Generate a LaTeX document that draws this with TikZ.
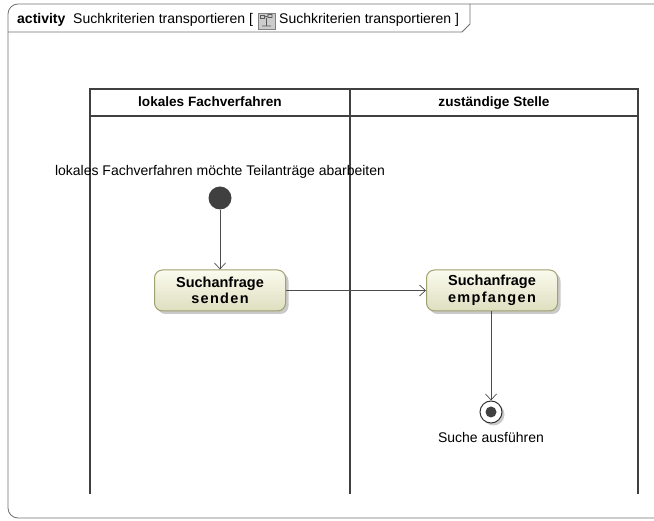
\documentclass[tikz,border=0pt]{standalone}
\usepackage{fontspec}
\setmainfont{Liberation Sans}
\usetikzlibrary{arrows.meta,shadows}
\definecolor{frameg}{HTML}{707070}
\definecolor{lanec}{HTML}{404040}
\definecolor{actborder}{HTML}{A0A070}
\definecolor{acttop}{HTML}{FBFBEE}
\definecolor{actbot}{HTML}{DEDEC0}
\definecolor{dotc}{HTML}{404040}
\tikzset{
  frameline/.style={draw=frameg, line width=0.8pt},
  laneline/.style={draw=lanec, line width=2pt},
  action/.style={draw=actborder, line width=1pt, rounded corners=8pt,
    top color=acttop, bottom color=actbot, minimum width=131pt, minimum height=41pt,
    align=center, font=\fontsize{14.5}{16.5}\selectfont\bfseries,
    drop shadow={shadow xshift=3pt, shadow yshift=-3pt, fill=black!35, opacity=0.6}},
  flow/.style={draw=black!70, line width=0.7pt, -{Straight Barb[length=6pt,width=11pt]}},
  caption/.style={font=\fontsize{14}{16}\selectfont, inner sep=0pt},
  titletext/.style={anchor=base west, inner sep=0pt, font=\fontsize{14}{16}\selectfont},
  lanehead/.style={anchor=base, inner sep=0pt, font=\fontsize{13.6}{15}\selectfont\bfseries},
}
\begin{document}
\begin{tikzpicture}[x=1pt,y=-1pt]
\useasboundingbox (0,0) rectangle (654,521);
% outer frame
\draw[frameline, rounded corners=10pt] (658,4) -- (8,4) -- (8,518) -- (658,518);
\draw[frameline] (8,32) -- (462,32) -- (470,24) -- (470,10) [rounded corners=6pt] -- (470,4);
\node[titletext] (title) at (17,24) {\textbf{activity}\ \ Suchkriterien transportieren [};
\node[titletext] (title2) at (279,24) {Suchkriterien transportieren ]};
% icon
\node[draw=black!50, fill=black!20, minimum width=17pt, minimum height=16pt, inner sep=0pt] (icon) at (266.5,21) {};
\draw[black!65, line width=0.8pt] (260.5,15.5) rectangle (264.5,18.5) (268,14.5) rectangle (272,17.5)
  (264.5,17) -- (268,16) (266.5,18) -- (266.5,25.5) (262,26) -- (271,26);
% swimlanes
\draw[laneline] (90,494) -- (90,89) -- (638,89) -- (638,494);
\draw[laneline] (350,89) -- (350,494);
\draw[laneline] (90,116) -- (638,116);
\node[lanehead] (lane1) at (210,107) {lokales Fachverfahren};
\node[lanehead] (lane2) at (494,107) {zuständige Stelle};
% initial node
\node[caption] (startlbl) at (220,172) {lokales Fachverfahren möchte Teilanträge abarbeiten};
\node[circle, fill=dotc, minimum size=23pt, inner sep=0pt] (start) at (220,198) {};
% actions
\node[action] (a1) at (220,290.5) {Suchanfrage\\\addfontfeature{LetterSpace=9}senden};
\node[action] (a2) at (492,290.5) {Suchanfrage\\\addfontfeature{LetterSpace=9}empfangen};
% final node
\node[circle, draw=black!80, line width=1pt, fill=white, minimum size=22pt, inner sep=0pt,
  drop shadow={shadow xshift=2.5pt, shadow yshift=-2.5pt, fill=black!35, opacity=0.6}] (final) at (491,412) {};
\node[circle, fill=dotc, minimum size=11pt, inner sep=0pt] (finaldot) at (final) {};
\node[caption] (finallbl) at (491,437) {Suche ausführen};
% flows
\draw[flow] (start) -- (a1);
\draw[flow] (a1) -- (a2);
\draw[flow] (a2.south -| final) -- (final);
\end{tikzpicture}
\end{document}
